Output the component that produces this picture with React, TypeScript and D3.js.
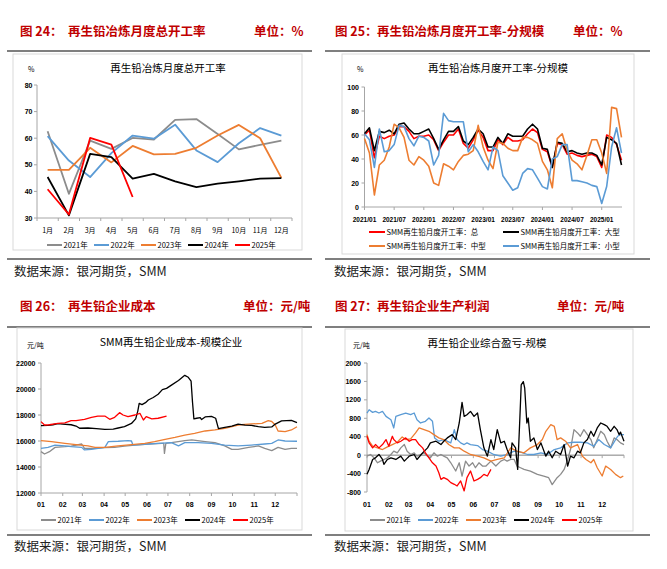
import React from "react";
import * as d3 from "d3";

const FONT = "'Noto Sans CJK SC', 'Noto Sans', sans-serif";
const NUM = "'Liberation Sans Narrow', 'Liberation Sans', sans-serif";
const TITLE_RED = "#c00000";
const GRAY = "#8c8c8c";
const BLUE = "#5b9bd5";
const ORANGE = "#ed7d31";
const BLACK = "#000000";
const RED = "#ff0000";
const AXIS = "#a6a6a6";

const YEARS = ["2021年", "2022年", "2023年", "2024年", "2025年"];
const YEAR_COLORS = [GRAY, BLUE, ORANGE, BLACK, RED];

// 图24 月度总开工率 (%)
const MONTH_LABELS = ["1月", "2月", "3月", "4月", "5月", "6月", "7月", "8月", "9月", "10月", "11月", "12月"];
const RATE_2021 = [62.6, 39.1, 59.1, 56.0, 60.1, 59.5, 66.9, 67.2, 61.6, 55.8, 57.5, 59.1];
const RATE_2022 = [60.8, 51.6, 45.4, 54.4, 61.0, 59.8, 65.1, 55.4, 51.0, 58.1, 63.8, 61.0];
const RATE_2023 = [48.1, 48.1, 56.4, 50.9, 57.1, 53.9, 54.1, 56.4, 61.0, 65.0, 60.0, 45.1];
const RATE_2024 = [45.4, 31.0, 54.1, 52.9, 44.8, 46.6, 43.8, 41.6, 42.9, 43.8, 44.8, 45.0];
const RATE_2025 = [40.8, 31.3, 60.1, 57.6, 37.9];
const RATE_TICKS = [30, 40, 50, 60, 70, 80];

// 图25 分规模开工率 (%), 2021/01 - 2025/05
const SIZE_TICK_LABELS = ["2021/01", "2021/07", "2022/01", "2022/07", "2023/01", "2023/07", "2024/01", "2024/07", "2025/01"];
const SIZE_TOTAL = [60, 64, 41, 59, 57, 59, 60, 67, 67, 63, 57, 59, 59, 60, 56, 47, 54, 60, 60, 65, 53, 49, 56, 64, 58, 47, 47, 56, 52, 58, 55, 55, 56, 61, 65, 62, 48, 46, 33, 53, 52, 44, 45, 43, 42, 43, 44, 42, 33, 60, 58, 52, 39];
const SIZE_LARGE = [61, 66, 47, 63, 62, 64, 61, 69, 70, 65, 61, 61, 63, 65, 57, 48, 56, 63, 63, 67, 55, 52, 58, 65, 61, 50, 50, 58, 53, 61, 59, 59, 59, 65, 69, 65, 49, 48, 33, 54, 53, 46, 47, 45, 44, 45, 45, 43, 35, 58, 56, 53, 35];
const SIZE_MEDIUM = [57, 45, 10, 35, 39, 50, 69, 66, 58, 39, 35, 42, 39, 34, 20, 18, 36, 34, 31, 38, 43, 44, 47, 68, 50, 39, 32, 54, 53, 49, 47, 47, 58, 58, 56, 53, 38, 31, 16, 57, 61, 47, 39, 36, 31, 43, 56, 56, 45, 28, 83, 82, 58];
const SIZE_SMALL = [61, 56, 33, 65, 46, 47, 52, 68, 67, 57, 51, 59, 58, 55, 35, 43, 78, 72, 71, 71, 71, 46, 52, 46, 38, 31, 50, 47, 26, 20, 14, 16, 28, 32, 31, 24, 17, 15, 40, 42, 52, 52, 22, 22, 21, 20, 18, 17, 3, 17, 50, 66, 45];
const SIZE_TICKS = [0, 20, 40, 60, 80, 100];

// 年内日序 (0-365) 的月份刻度
const MONTH_TICK_LABELS = ["01", "02", "03", "04", "05", "06", "07", "08", "09", "10", "11", "12"];
const MONTH_START_DAYS = [0, 31, 59, 90, 120, 151, 181, 212, 243, 273, 304, 334];

// 图26 企业成本 (元/吨), [日序, 值]
const COST_2021: [number, number][] = [[0, 15180], [5, 15000], [12, 15180], [20, 15510], [34, 15560], [43, 15610], [58, 15770], [62, 15440], [77, 15440], [91, 15490], [105, 15510], [119, 15610], [134, 15690], [153, 15770], [172, 15820], [175, 15820], [176, 15050], [178, 15820], [186, 15870], [205, 16030], [215, 16080], [234, 15950], [248, 15870], [262, 15620], [272, 15360], [281, 15360], [296, 15510], [310, 15620], [319, 15440], [329, 15260], [338, 15510], [348, 15360], [357, 15440], [365, 15440]];
const COST_2022: [number, number][] = [[0, 15440], [10, 15510], [20, 15690], [34, 15620], [43, 15560], [58, 15510], [62, 15310], [72, 15360], [91, 15510], [96, 15950], [110, 15980], [124, 16030], [129, 16000], [131, 15690], [153, 15770], [167, 15820], [186, 15870], [196, 15620], [205, 15870], [224, 15870], [243, 15820], [262, 15690], [281, 15620], [300, 15690], [319, 15770], [329, 15820], [338, 16080], [348, 16000], [365, 15980]];
const COST_2023: [number, number][] = [[0, 16030], [15, 15950], [34, 15820], [53, 15700], [67, 15620], [77, 15510], [91, 15510], [110, 15620], [129, 15720], [148, 15820], [162, 15950], [177, 16130], [191, 16280], [205, 16460], [219, 16590], [234, 16770], [248, 16850], [262, 16970], [281, 17230], [300, 17310], [315, 17360], [324, 17560], [329, 17500], [334, 17230], [338, 16770], [348, 16720], [357, 16850], [365, 17100]];
const COST_2024: [number, number][] = [[0, 17180], [10, 17200], [17, 17250], [24, 17330], [31, 17300], [43, 17250], [50, 17150], [55, 16980], [67, 17000], [79, 16950], [91, 16900], [103, 16920], [110, 17000], [119, 17100], [129, 17350], [135, 17700], [138, 18300], [140, 18900], [144, 18800], [149, 18950], [153, 19150], [160, 19350], [167, 19600], [173, 19950], [179, 20050], [186, 20300], [196, 20650], [205, 21050], [210, 20900], [214, 20600], [216, 19000], [218, 17700], [222, 17750], [227, 17800], [229, 17650], [234, 17850], [243, 17900], [249, 17750], [253, 16950], [262, 17050], [272, 17150], [281, 17300], [291, 17220], [300, 17200], [310, 17100], [319, 17050], [329, 17080], [334, 17300], [343, 17550], [357, 17580], [365, 17420]];
const COST_2025: [number, number][] = [[0, 17490], [5, 17230], [12, 17250], [24, 17360], [34, 17400], [43, 17560], [50, 17560], [62, 17670], [72, 17820], [81, 17920], [91, 17920], [98, 17670], [105, 17820], [112, 18180], [117, 18000], [124, 17870], [134, 18000], [141, 18130], [146, 17615], [150, 17870], [158, 17700], [167, 17750], [179, 17920]];
const COST_TICKS = [12000, 14000, 16000, 18000, 20000, 22000];

// 图27 综合盈亏 (元/吨), [日序, 值]
const PROFIT_2021: [number, number][] = [[0, -22], [5, 14], [10, -58], [15, -166], [19, -130], [24, -94], [29, -58], [34, 14], [38, 86], [43, 50], [48, 158], [53, 230], [57, 86], [62, 14], [67, 50], [71, -22], [76, 14], [81, 50], [86, -22], [90, -58], [95, 50], [100, -22], [105, 14], [109, -22], [114, -58], [119, -166], [126, -345], [131, -166], [135, -453], [140, -130], [145, -237], [150, -166], [154, -273], [159, -166], [164, -237], [169, -237], [176, -130], [183, -237], [190, -130], [195, -94], [199, -130], [204, -94], [209, -94], [213, -237], [218, -273], [223, -310], [232, -345], [242, -417], [251, -453], [258, -489], [263, -640], [270, -489], [275, -417], [280, -310], [285, -94], [289, 122], [294, 554], [299, 482], [303, 410], [308, 554], [313, 446], [318, 338], [322, 158], [327, 338], [332, 518], [337, 446], [341, 302], [346, 158], [351, 374], [355, 338], [360, 266], [365, 230]];
const PROFIT_2022: [number, number][] = [[0, 914], [3, 985], [8, 928], [12, 950], [17, 914], [22, 950], [27, 842], [34, 770], [38, 590], [41, 842], [48, 878], [55, 914], [62, 878], [67, 914], [71, 770], [76, 698], [83, 734], [88, 806], [93, 734], [96, 374], [102, 302], [109, 338], [119, 266], [124, 554], [128, 338], [133, 266], [138, 230], [142, 266], [147, 230], [157, 208], [164, 122], [171, 86], [180, 14], [190, -22], [199, 14], [209, 86], [218, 64], [228, 14], [237, 14], [247, 50], [256, 14], [266, 122], [275, 158], [285, 266], [294, 280], [303, 280], [313, 266], [322, 194], [329, 338], [337, 230], [346, 158], [356, 410], [360, 446], [365, 446]];
const PROFIT_2023: [number, number][] = [[0, 446], [3, 302], [8, 194], [15, 158], [22, 122], [29, 180], [36, 230], [43, 280], [50, 396], [55, 338], [62, 352], [69, 482], [74, 590], [81, 554], [88, 518], [95, 446], [102, 374], [109, 338], [116, 230], [124, 158], [131, 158], [138, 86], [147, 14], [157, -22], [166, -58], [176, -130], [185, -94], [195, -58], [204, 158], [213, 86], [223, 50], [232, 158], [242, 230], [249, 338], [254, 518], [261, 662], [266, 626], [270, 338], [275, 374], [282, 302], [289, 158], [299, 230], [306, -22], [311, -94], [318, -166], [322, -94], [327, -273], [334, -453], [339, -237], [346, -310], [353, -417], [360, -489], [364, -453]];
const PROFIT_2024: [number, number][] = [[0, -417], [3, -310], [8, -94], [12, -58], [17, 14], [22, -94], [24, -200], [29, -94], [34, -58], [41, -94], [48, -22], [53, -130], [60, -22], [67, 14], [71, -94], [79, 50], [86, 158], [90, 266], [98, 302], [105, 230], [109, 302], [114, 374], [121, 446], [126, 338], [131, 698], [135, 1144], [138, 842], [142, 878], [147, 950], [152, 842], [157, 914], [161, 554], [166, 158], [171, -22], [176, 338], [180, 122], [185, 554], [190, 266], [195, 302], [199, 122], [204, -58], [206, 266], [211, 158], [214, -310], [217, 770], [219, 1525], [222, 1597], [224, 1453], [227, 698], [229, 806], [232, 302], [237, 374], [242, 122], [247, 266], [254, -22], [258, 86], [263, -58], [268, 86], [275, 14], [280, 230], [285, -237], [289, -22], [294, -58], [299, 86], [303, 50], [308, 266], [313, 338], [318, 518], [322, 410], [327, 590], [332, 698], [337, 662], [341, 626], [346, 518], [351, 626], [355, 554], [358, 446], [360, 500], [365, 302]];
const PROFIT_2025: [number, number][] = [[0, 410], [3, 266], [8, 158], [12, 230], [17, 158], [22, 230], [27, 338], [31, 194], [36, 410], [38, 338], [43, 266], [48, 302], [55, 374], [60, 302], [64, 338], [69, 338], [74, 230], [79, 158], [83, 50], [88, -58], [93, -166], [98, -237], [102, -381], [105, -525], [109, -489], [114, -525], [119, -597], [124, -633], [128, -669], [133, -561], [138, -777], [142, -489], [147, -345], [152, -561], [157, -525], [161, -489], [166, -417], [171, -453], [176, -309]];
const PROFIT_TICKS = [-800, -400, 0, 400, 800, 1200, 1600, 2000];

function Frame(props: {
  no: string; noX: number; title: string; titleX: number; titleY: number;
  unit: string; unitX: number; rule: [number, number]; topY: number; bottomY: number;
  box: [number, number, number, number]; sourceX: number; sourceY: number;
}) {
  const { no, noX, title, titleX, titleY, unit, unitX, rule, topY, bottomY, box, sourceX, sourceY } = props;
  return (
    <g>
      <text x={noX} y={titleY} fontFamily={FONT} fontSize={12.5} fontWeight="bold" fill={TITLE_RED}>{no}</text>
      <text x={titleX} y={titleY} fontFamily={FONT} fontSize={12.5} fontWeight="bold" fill={TITLE_RED}>{title}</text>
      <text x={unitX} y={titleY} fontFamily={FONT} fontSize={12.5} fontWeight="bold" fill={TITLE_RED}>{unit}</text>
      <line x1={rule[0]} x2={rule[1]} y1={topY} y2={topY} stroke="#000" strokeWidth={1.2} />
      <rect x={box[0]} y={box[1]} width={box[2] - box[0]} height={box[3] - box[1]} fill="#fff" stroke="#d9d9d9" strokeWidth={1} />
      <line x1={rule[0]} x2={rule[1]} y1={bottomY} y2={bottomY} stroke="#000" strokeWidth={1.2} />
      <text x={sourceX} y={sourceY} fontFamily={FONT} fontSize={12.5} fill="#222">数据来源：银河期货，SMM</text>
    </g>
  );
}

function Legend({ x, y, color, label, len = 15 }: { x: number; y: number; color: string; label: string; len?: number }) {
  return (
    <g>
      <line x1={x} x2={x + len} y1={y} y2={y} stroke={color} strokeWidth={2} />
      <text x={x + len + 1.5} y={y + 2.6} fontFamily={FONT} fontSize={7.5} fill="#000">{label}</text>
    </g>
  );
}

function YAxis({ scale, ticks, x, labelX, fmt }: { scale: d3.ScaleLinear<number, number>; ticks: number[]; x: number; labelX: number; fmt?: (v: number) => string }) {
  const [r0, r1] = scale.range();
  return (
    <g>
      <line x1={x} x2={x} y1={r0} y2={r1} stroke={AXIS} strokeWidth={1} />
      {ticks.map((t) => (
        <g key={t}>
          <line x1={x - 3} x2={x} y1={scale(t)} y2={scale(t)} stroke={AXIS} strokeWidth={1} />
          <text x={labelX} y={scale(t) + 2.5} textAnchor="end" fontFamily={NUM} fontSize={7} fontWeight="bold" fill="#000">
            {fmt ? fmt(t) : String(t)}
          </text>
        </g>
      ))}
    </g>
  );
}

function Chart24() {
  const x = d3.scaleBand<string>().domain(MONTH_LABELS).range([37, 292]);
  const cx = (i: number) => (x(MONTH_LABELS[i]) as number) + x.bandwidth() / 2;
  const y = d3.scaleLinear().domain([30, 80]).range([218, 85]);
  const line = d3.line<number>().x((_, i) => cx(i)).y((v) => y(v));
  const series = [RATE_2021, RATE_2022, RATE_2023, RATE_2024, RATE_2025];
  const bounds = [...MONTH_LABELS.map((m) => x(m) as number), 292];
  return (
    <g>
      <Frame no="图 24：" noX={20} title="再生铅冶炼月度总开工率" titleX={68} titleY={35.5} unit="单位：%" unitX={254}
        rule={[7, 312]} topY={51} bottomY={259} box={[13, 54, 302, 250]} sourceX={14} sourceY={276} />
      <text x={168} y={72} textAnchor="middle" fontFamily={FONT} fontSize={10.5} fill="#000">再生铅冶炼月度总开工率</text>
      <text x={28} y={72} fontFamily={FONT} fontSize={7} fill="#000">%</text>
      <YAxis scale={y} ticks={RATE_TICKS} x={37} labelX={32.5} />
      <line x1={37} x2={292} y1={218} y2={218} stroke={AXIS} strokeWidth={1} />
      {bounds.map((b, i) => (
        <line key={i} x1={b} x2={b} y1={218} y2={221} stroke={AXIS} strokeWidth={1} />
      ))}
      {MONTH_LABELS.map((m, i) => (
        <text key={m} x={cx(i)} y={233} textAnchor="middle" fontFamily={FONT} fontSize={7} fill="#000">{m}</text>
      ))}
      {series.map((s, i) => (
        <path key={i} d={line(s) ?? ""} fill="none" stroke={YEAR_COLORS[i]} strokeWidth={1.8} strokeLinejoin="round" />
      ))}
      {YEARS.map((lab, i) => (
        <Legend key={lab} x={47 + i * 47} y={245} color={YEAR_COLORS[i]} label={lab} />
      ))}
    </g>
  );
}

function Chart25() {
  const months = d3.timeMonths(new Date(2021, 0, 1), new Date(2025, 5, 1));
  const x = d3.scaleLinear().domain([0, months.length - 1]).range([364.5, 621.5]);
  const y = d3.scaleLinear().domain([0, 100]).range([207, 87]);
  const line = d3.line<number>().x((_, i) => x(i)).y((v) => y(v));
  const fmt = d3.timeFormat("%Y/%m");
  const tickIdx = months.map((m, i) => i).filter((i) => SIZE_TICK_LABELS.includes(fmt(months[i])));
  const series = [
    { v: SIZE_TOTAL, c: RED, label: "SMM再生铅月度开工率：总" },
    { v: SIZE_LARGE, c: BLACK, label: "SMM再生铅月度开工率：大型" },
    { v: SIZE_MEDIUM, c: ORANGE, label: "SMM再生铅月度开工率：中型" },
    { v: SIZE_SMALL, c: BLUE, label: "SMM再生铅月度开工率：小型" },
  ];
  return (
    <g>
      <Frame no="图 25：" noX={335} title="再生铅冶炼月度开工率-分规模" titleX={377} titleY={35.5} unit="单位：%" unitX={573}
        rule={[325, 650]} topY={51} bottomY={259} box={[342, 54, 634, 254]} sourceX={334} sourceY={276} />
      <text x={498} y={72} textAnchor="middle" fontFamily={FONT} fontSize={10.5} fill="#000">再生铅冶炼月度开工率-分规模</text>
      <text x={357} y={72} fontFamily={FONT} fontSize={7} fill="#000">%</text>
      <YAxis scale={y} ticks={SIZE_TICKS} x={364.5} labelX={359} />
      <line x1={364.5} x2={622} y1={207} y2={207} stroke={AXIS} strokeWidth={1} />
      {tickIdx.map((i) => (
        <g key={i}>
          <line x1={x(i)} x2={x(i)} y1={207} y2={210} stroke={AXIS} strokeWidth={1} />
          <text x={x(i)} y={222} textAnchor="middle" fontFamily={NUM} fontSize={6.5} fontWeight="bold" fill="#000">{fmt(months[i])}</text>
        </g>
      ))}
      {series.map((s) => (
        <path key={s.label} d={line(s.v) ?? ""} fill="none" stroke={s.c} strokeWidth={1.6} strokeLinejoin="round" />
      ))}
      {series.map((s, i) => (
        <Legend key={s.label} x={i % 2 === 0 ? 369 : 503} y={i < 2 ? 232 : 246} color={s.c} label={s.label} len={16} />
      ))}
    </g>
  );
}

function DailyChart(props: {
  left: number; right: number; top: number; bottom: number; domain: [number, number]; ticks: number[];
  labelX: number; series: [number, number][][]; zeroLine?: boolean; legendX: number;
}) {
  const { left, right, top, bottom, domain, ticks, labelX, series, zeroLine, legendX } = props;
  const x = d3.scaleLinear().domain([0, 365]).range([left, right]);
  const y = d3.scaleLinear().domain(domain).range([bottom, top]);
  const line = d3.line<[number, number]>().x((d) => x(d[0])).y((d) => y(d[1]));
  const axisY = zeroLine ? y(0) : bottom;
  return (
    <g>
      <YAxis scale={y} ticks={ticks} x={left} labelX={labelX} />
      <line x1={left} x2={right} y1={axisY} y2={axisY} stroke={zeroLine ? "#808080" : AXIS} strokeWidth={1} />
      {[...MONTH_START_DAYS, 365].map((d) => (
        <line key={d} x1={x(d)} x2={x(d)} y1={axisY} y2={axisY + 3} stroke={AXIS} strokeWidth={1} />
      ))}
      {MONTH_TICK_LABELS.map((m, i) => (
        <text key={m} x={x(MONTH_START_DAYS[i])} y={507} textAnchor="middle" fontFamily={NUM} fontSize={7} fontWeight="bold" fill="#000">{m}</text>
      ))}
      {series.map((s, i) => (
        <path key={i} d={line(s) ?? ""} fill="none" stroke={YEAR_COLORS[i]} strokeWidth={1.3} strokeLinejoin="round" />
      ))}
      {YEARS.map((lab, i) => (
        <Legend key={lab} x={legendX + i * 48} y={520} color={YEAR_COLORS[i]} label={lab} />
      ))}
    </g>
  );
}

function Chart26() {
  return (
    <g>
      <Frame no="图 26：" noX={20} title="再生铅企业成本" titleX={68} titleY={311} unit="单位：元/吨" unitX={243}
        rule={[7, 312]} topY={327} bottomY={535} box={[17, 328, 302, 530]} sourceX={14} sourceY={551} />
      <text x={171} y={346} textAnchor="middle" fontFamily={FONT} fontSize={10.5} fill="#000">SMM再生铅企业成本-规模企业</text>
      <text x={27} y={348} fontFamily={FONT} fontSize={7} fill="#000">元/吨</text>
      <DailyChart left={41} right={297} top={363} bottom={493} domain={[12000, 22000]} ticks={COST_TICKS} labelX={35.5}
        series={[COST_2021, COST_2022, COST_2023, COST_2024, COST_2025]} legendX={41} />
    </g>
  );
}

function Chart27() {
  return (
    <g>
      <Frame no="图 27：" noX={335} title="再生铅企业生产利润" titleX={377} titleY={311} unit="单位：元/吨" unitX={557}
        rule={[325, 650]} topY={327} bottomY={535} box={[345, 329, 633, 531]} sourceX={334} sourceY={551} />
      <text x={487} y={347} textAnchor="middle" fontFamily={FONT} fontSize={10.5} fill="#000">再生铅企业综合盈亏-规模</text>
      <text x={353} y={348} fontFamily={FONT} fontSize={7} fill="#000">元/吨</text>
      <DailyChart left={367} right={624} top={363} bottom={492} domain={[-800, 2000]} ticks={PROFIT_TICKS} labelX={361}
        series={[PROFIT_2021, PROFIT_2022, PROFIT_2023, PROFIT_2024, PROFIT_2025]} zeroLine legendX={370} />
    </g>
  );
}

export default function App() {
  return (
    <svg width={667} height={569} viewBox="0 0 667 569" style={{ position: "absolute", left: 0, top: 0, background: "#fff" }}>
      <rect width={667} height={569} fill="#fff" />
      <Chart24 />
      <Chart25 />
      <Chart26 />
      <Chart27 />
    </svg>
  );
}
